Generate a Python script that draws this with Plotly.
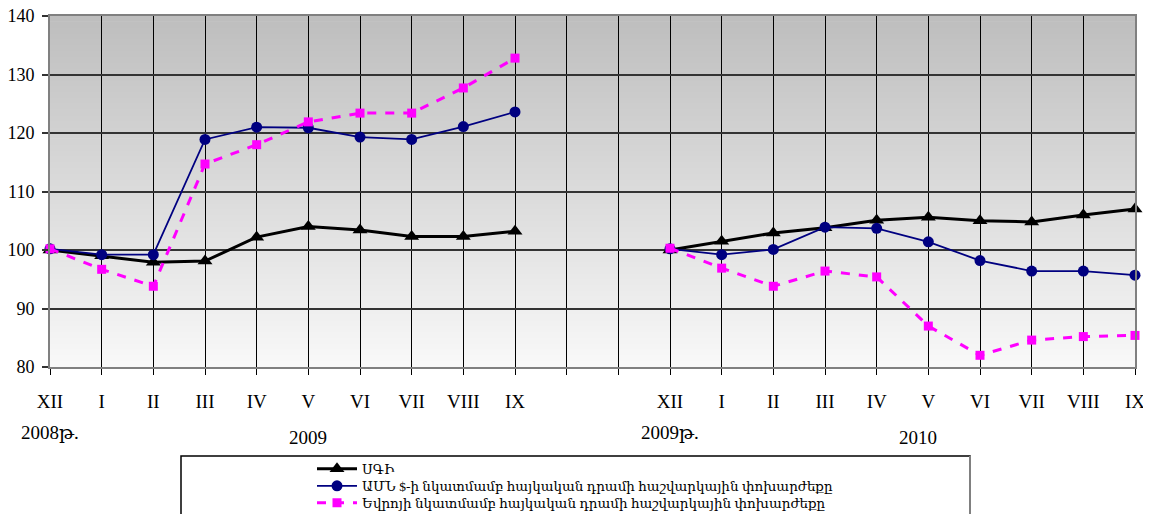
import plotly.graph_objects as go

# ---- data ----
month_labels = ["XII", "I", "II", "III", "IV", "V", "VI", "VII", "VIII", "IX",
                "", "",
                "XII", "I", "II", "III", "IV", "V", "VI", "VII", "VIII", "IX"]

cpi_2009 = [100.0, 99.0, 97.9, 98.1, 102.2, 104.0, 103.4, 102.3, 102.3, 103.2]
usd_2009 = [100.2, 99.2, 99.2, 118.9, 121.0, 120.9, 119.3, 118.9, 121.1, 123.6]
eur_2009 = [100.2, 96.7, 93.8, 114.7, 118.0, 121.9, 123.4, 123.4, 127.7, 132.8]

cpi_2010 = [100.0, 101.5, 102.9, 103.8, 105.1, 105.6, 105.0, 104.8, 106.0, 107.0]
usd_2010 = [100.2, 99.2, 100.1, 103.9, 103.7, 101.4, 98.2, 96.4, 96.4, 95.7]
eur_2010 = [100.3, 96.9, 93.8, 96.4, 95.4, 87.0, 82.0, 84.6, 85.2, 85.4]

series_names = ["ՍԳԻ",
                "ԱՄՆ $-ի նկատմամբ հայկական դրամի հաշվարկային փոխարժեքը",
                "Եվրոյի նկատմամբ հայկական դրամի հաշվարկային փոխարժեքը"]

year_labels = ["2008թ.", "2009", "2009թ.", "2010"]
year_label_pos = [0, 5, 12, 16.8]

# ---- build ----
n = len(month_labels)
idx = list(range(n))
gap = [None, None]


def join(a, b):
    return a + gap + b


serif = "Times New Roman, Liberation Serif, DejaVu Serif, serif"

# page has an 8px body margin: figure origin sits at page (8, 8)
OFF = 8
W, H = 1151 - OFF, 514 - OFF
ml, mr, mt, mb = 50 - OFF, 16, 16 - OFF, 147
pw = W - ml - mr
ph = H - mt - mb


def px_x(p):  # page pixel -> paper x
    return (p - OFF - ml) / pw


def px_y(p):  # page pixel -> paper y
    return (H - mb - (p - OFF)) / ph


fig = go.Figure()
fig.add_trace(go.Scatter(
    x=idx, y=join(cpi_2009, cpi_2010), name=series_names[0], mode="lines+markers",
    line=dict(color="black", width=3), connectgaps=False, cliponaxis=False,
    marker=dict(symbol="triangle-up", size=13, color="black"), legend="legend"))
fig.add_trace(go.Scatter(
    x=idx, y=join(usd_2009, usd_2010), name=series_names[1], mode="lines+markers",
    line=dict(color="#000080", width=1.8), connectgaps=False, cliponaxis=False,
    marker=dict(symbol="circle", size=11, color="#000080"), legend="legend2"))
fig.add_trace(go.Scatter(
    x=idx, y=join(eur_2009, eur_2010), name=series_names[2], mode="lines+markers",
    line=dict(color="#FF00FF", width=3, dash="dash"), connectgaps=False, cliponaxis=False,
    marker=dict(symbol="square", size=9, color="#FF00FF"), legend="legend3"))

# gradient background (decoration)
shapes = []
steps = 60
top = (190, 190, 190)
bot = (248, 248, 248)
for i in range(steps):
    t = i / (steps - 1)
    c = tuple(round(bot[k] + (top[k] - bot[k]) * t) for k in range(3))
    shapes.append(dict(type="rect", xref="paper", yref="paper",
                       x0=0, x1=1, y0=i / steps, y1=(i + 1) / steps + 0.002,
                       fillcolor="rgb(%d,%d,%d)" % c, line=dict(width=0), layer="below"))

# legend box (decoration)
shapes.append(dict(type="rect", xref="paper", yref="paper",
                   x0=px_x(181), x1=px_x(970), y0=px_y(456), y1=px_y(540),
                   line=dict(color="black", width=1.5), fillcolor="white", layer="above"))
shapes.append(dict(type="line", xref="paper", yref="paper",
                   x0=px_x(970), x1=px_x(970), y0=px_y(456), y1=px_y(540),
                   line=dict(color="#808080", width=2)))

annotations = []
for lab, pos in zip(year_labels, year_label_pos):
    yy = 432 if lab.endswith("թ.") else 437
    annotations.append(dict(x=pos, xref="x", y=px_y(yy), yref="paper",
                            text=lab, showarrow=False, xanchor="center", yanchor="middle",
                            font=dict(family=serif, size=19, color="black")))


def leg(ypage):
    return dict(x=px_x(312), y=px_y(ypage), xanchor="left", yanchor="middle",
                xref="paper", yref="paper",
                bgcolor="rgba(0,0,0,0)", borderwidth=0,
                font=dict(family=serif, size=13.5, color="black"),
                tracegroupgap=0, itemwidth=40)


fig.update_layout(
    width=W, height=H,
    margin=dict(l=ml, r=mr, t=mt, b=mb, autoexpand=False),
    paper_bgcolor="white",
    plot_bgcolor="rgba(0,0,0,0)",
    shapes=shapes,
    annotations=annotations,
    showlegend=True,
    legend=leg(469), legend2=leg(486), legend3=leg(503),
    font=dict(family=serif, color="black"),
)

fig.update_xaxes(
    range=[0, n - 1], tickmode="array", tickvals=idx, ticktext=month_labels,
    showgrid=True, gridcolor="black", gridwidth=1,
    showline=True, linecolor="#808080", linewidth=2, mirror=True,
    ticks="outside", ticklen=6, tickcolor="black", tickwidth=1,
    ticklabelstandoff=10, automargin=False, ticklabeloverflow="allow",
    tickfont=dict(family=serif, size=19, color="black"), zeroline=False)
fig.update_yaxes(
    range=[80, 140], tickmode="array", tickvals=[80, 90, 100, 110, 120, 130, 140],
    showgrid=True, gridcolor="#333333", gridwidth=1.5,
    showline=True, linecolor="#808080", linewidth=2, mirror=True,
    ticks="outside", ticklen=6, tickcolor="#333333", tickwidth=1.5,
    ticklabelstandoff=4, automargin=False, ticklabeloverflow="allow",
    tickfont=dict(family=serif, size=18, color="black"), zeroline=False)

fig.write_html("out.html")
